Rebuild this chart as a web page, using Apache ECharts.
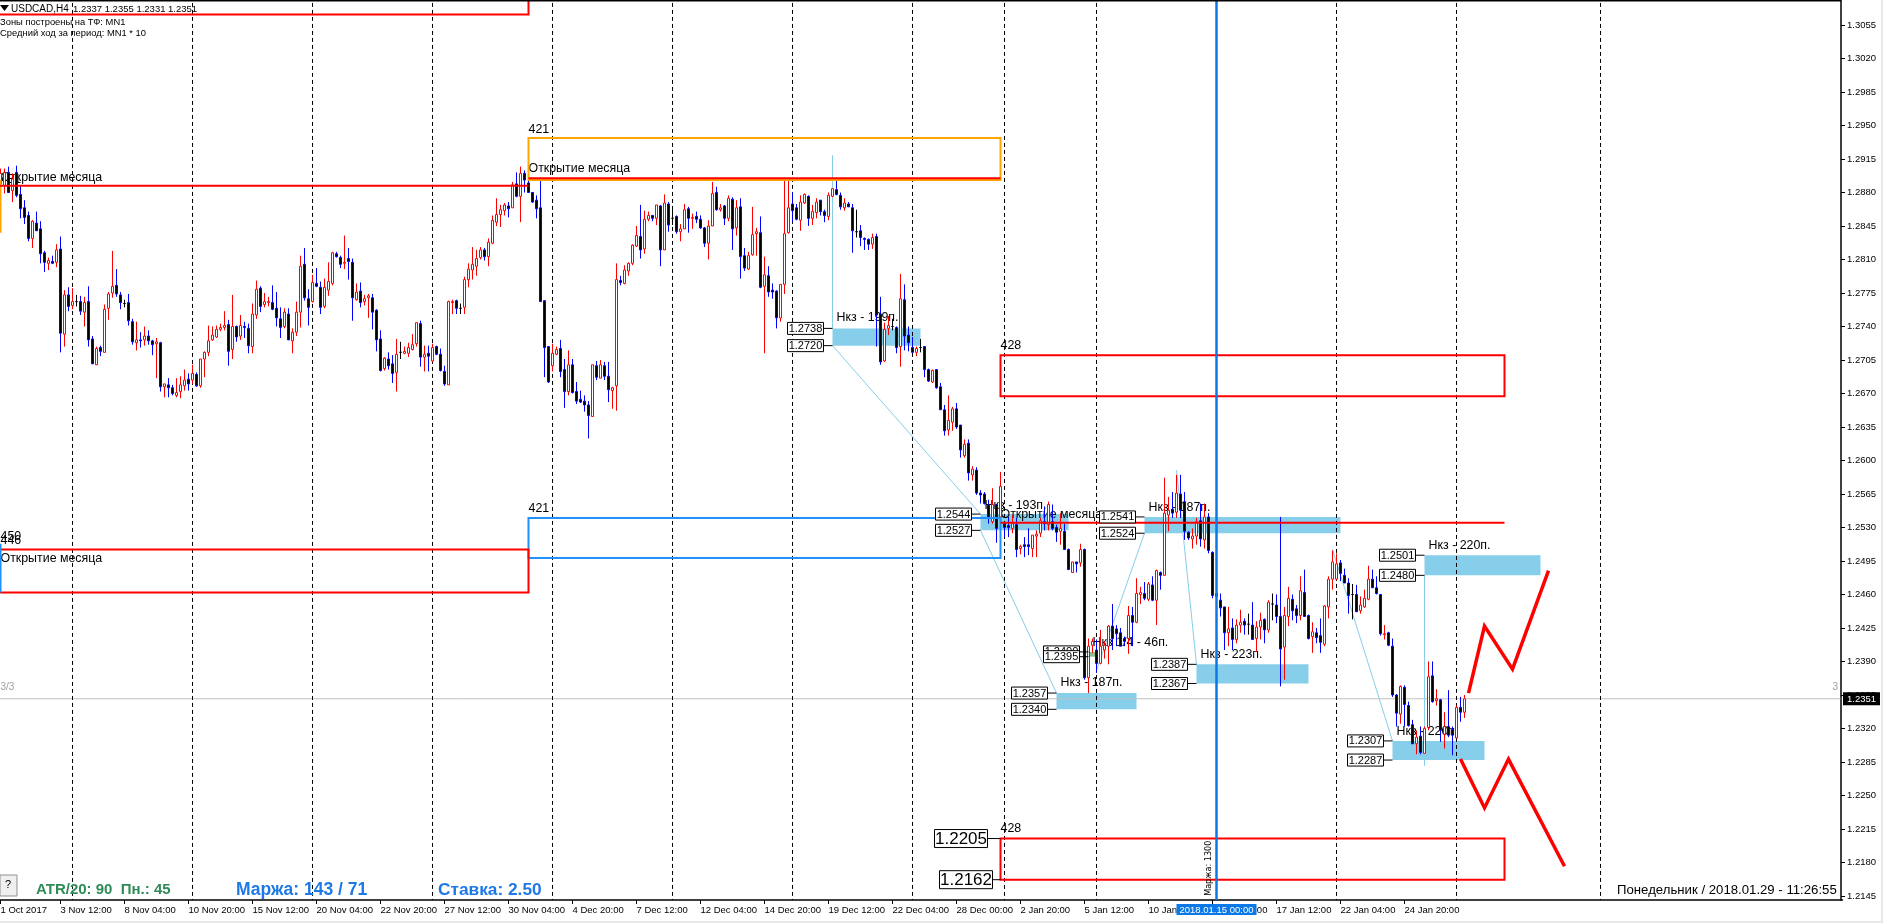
<!DOCTYPE html>
<html><head><meta charset="utf-8"><title>USDCAD H4</title>
<style>html,body{margin:0;padding:0;background:#fff;overflow:hidden}#c{width:1883px;height:923px}</style>
<script src="https://cdn.jsdelivr.net/npm/echarts@6/dist/echarts.min.js"></script></head>
<body><div id="c"></div>
<script>
// Candles: [open, close, low, high] in units of 0.0001
const candles = [
[12889,12900,12885,12905],[12887,12901,12879,12905],[12901,12880,12880,12907],[12882,12894,12870,12900],[12901,12877,12875,12908],[12878,12863,12853,12887],[12864,12854,12847,12872],[12856,12832,12829,12860],[12832,12850,12822,12851],[12848,12840,12840,12860],
[12842,12816,12806,12850],[12817,12807,12797,12819],[12806,12809,12799,12812],[12808,12806,12806,12814],[12807,12820,12802,12826],[12821,12733,12713,12834],[12732,12773,12719,12778],[12773,12761,12756,12781],[12762,12766,12758,12780],[12766,12766,12761,12773],
[12766,12756,12752,12772],[12755,12765,12740,12771],[12766,12726,12719,12782],[12727,12701,12701,12730],[12700,12717,12700,12719],[12718,12714,12709,12720],[12713,12758,12713,12763],[12759,12774,12747,12776],[12775,12782,12770,12819],[12783,12774,12771,12800],
[12773,12765,12758,12776],[12764,12764,12760,12768],[12765,12746,12741,12774],[12745,12724,12721,12748],[12723,12726,12715,12745],[12726,12725,12718,12734],[12726,12730,12720,12740],[12730,12725,12721,12736],[12725,12721,12710,12726],[12722,12724,12686,12728],
[12723,12677,12672,12724],[12677,12680,12666,12680],[12679,12676,12666,12686],[12676,12670,12668,12679],[12668,12671,12666,12686],[12672,12679,12665,12688],[12678,12684,12673,12695],[12685,12680,12673,12691],[12684,12691,12680,12700],[12690,12678,12677,12692],
[12678,12706,12676,12706],[12706,12713,12687,12714],[12713,12725,12709,12741],[12726,12731,12725,12740],[12729,12737,12728,12741],[12737,12739,12735,12743],[12739,12741,12736,12756],[12742,12714,12699,12747],[12716,12740,12706,12773],[12740,12729,12724,12741],
[12730,12741,12726,12752],[12740,12739,12728,12745],[12738,12720,12712,12743],[12719,12753,12712,12764],[12752,12779,12748,12788],[12780,12761,12755,12782],[12763,12766,12760,12775],[12765,12766,12761,12771],[12765,12758,12757,12783],[12759,12749,12740,12776],
[12748,12739,12728,12760],[12740,12755,12738,12759],[12753,12726,12726,12759],[12725,12734,12712,12738],[12734,12755,12730,12766],[12755,12803,12739,12814],[12805,12770,12767,12822],[12769,12760,12741,12779],[12766,12786,12765,12794],[12785,12782,12781,12801],
[12781,12760,12753,12787],[12761,12781,12759,12790],[12778,12787,12772,12807],[12785,12817,12783,12818],[12816,12813,12812,12818],[12812,12805,12801,12814],[12806,12807,12800,12835],[12811,12808,12789,12822],[12807,12770,12746,12811],[12768,12776,12767,12785],
[12777,12765,12760,12786],[12766,12769,12762,12773],[12770,12772,12749,12774],[12770,12755,12737,12774],[12757,12726,12714,12758],[12727,12694,12693,12736],[12696,12707,12694,12708],[12706,12699,12695,12713],[12701,12691,12681,12710],[12692,12711,12672,12727],
[12713,12713,12706,12724],[12712,12714,12711,12719],[12712,12718,12708,12723],[12716,12721,12715,12732],[12722,12744,12719,12744],[12743,12708,12698,12746],[12708,12711,12693,12720],[12712,12709,12693,12720],[12704,12718,12703,12722],[12719,12711,12710,12720],
[12711,12694,12693,12717],[12693,12680,12678,12699],[12679,12766,12679,12767],[12765,12766,12753,12768],[12767,12759,12753,12768],[12759,12759,12753,12764],[12760,12789,12753,12792],[12789,12800,12781,12806],[12799,12805,12789,12823],[12803,12811,12793,12820],
[12812,12820,12810,12823],[12820,12813,12809,12822],[12813,12828,12803,12832],[12827,12851,12826,12856],[12849,12857,12845,12874],[12857,12862,12844,12867],[12861,12867,12856,12869],[12866,12863,12854,12870],[12864,12888,12864,12891],[12889,12876,12875,12901],
[12876,12900,12849,12907],[12900,12893,12880,12903],[12890,12880,12880,12893],[12880,12870,12869,12880],[12872,12863,12853,12877],[12864,12766,12766,12892],[12767,12718,12687,12767],[12719,12682,12681,12719],[12699,12712,12693,12722],[12711,12716,12710,12719],
[12717,12693,12687,12726],[12695,12672,12655,12706],[12672,12700,12668,12715],[12700,12671,12670,12706],[12672,12662,12659,12682],[12664,12661,12660,12673],[12662,12658,12651,12668],[12658,12647,12623,12662],[12646,12700,12646,12700],[12699,12687,12684,12704],
[12686,12700,12686,12705],[12699,12688,12684,12703],[12688,12674,12661,12703],[12673,12676,12654,12677],[12678,12789,12652,12806],[12788,12786,12783,12793],[12785,12799,12784,12804],[12798,12806,12793,12807],[12806,12825,12804,12826],[12824,12835,12823,12845],
[12834,12820,12811,12867],[12821,12852,12816,12861],[12852,12856,12850,12860],[12856,12853,12850,12856],[12853,12867,12846,12867],[12866,12820,12803,12867],[12820,12869,12820,12878],[12868,12846,12839,12870],[12853,12853,12846,12862],[12855,12839,12837,12856],
[12839,12842,12829,12847],[12842,12862,12842,12868],[12863,12853,12838,12865],[12853,12854,12842,12858],[12855,12852,12848,12860],[12852,12843,12842,12856],[12843,12827,12823,12844],[12827,12845,12810,12851],[12845,12879,12845,12891],[12880,12862,12861,12886],
[12862,12864,12860,12868],[12866,12853,12846,12867],[12853,12874,12850,12877],[12873,12842,12820,12875],[12843,12864,12835,12872],[12865,12813,12790,12874],[12814,12801,12798,12822],[12800,12814,12799,12818],[12815,12836,12814,12865],[12837,12839,12814,12843],
[12838,12781,12780,12855],[12782,12794,12712,12813],[12793,12776,12771,12803],[12778,12776,12769,12785],[12777,12749,12738,12778],[12749,12784,12745,12784],[12784,12837,12774,12892],[12838,12864,12837,12892],[12868,12861,12849,12880],[12864,12852,12851,12868],
[12851,12870,12840,12877],[12869,12878,12868,12879],[12876,12853,12845,12877],[12853,12860,12846,12867],[12859,12870,12853,12874],[12872,12860,12856,12872],[12860,12856,12849,12862],[12855,12877,12851,12880],[12876,12884,12875,12884],[12883,12878,12877,12892],
[12877,12865,12862,12880],[12864,12869,12861,12874],[12868,12865,12865,12870],[12864,12840,12817,12868],[12839,12839,12833,12862],[12840,12833,12824,12846],[12832,12831,12820,12833],[12831,12826,12820,12832],[12826,12833,12821,12837],[12834,12752,12719,12837],
[12753,12703,12700,12771],[12704,12737,12703,12744],[12738,12741,12731,12751],[12740,12740,12736,12748],[12739,12718,12712,12740],[12719,12769,12698,12795],[12768,12730,12715,12784],[12731,12723,12714,12740],[12718,12713,12713,12729],[12713,12717,12709,12719],
[12718,12718,12713,12727],[12719,12695,12687,12719],[12695,12683,12682,12696],[12682,12694,12681,12695],[12695,12676,12675,12695],[12677,12653,12653,12681],[12653,12631,12626,12658],[12632,12642,12626,12668],[12640,12654,12631,12656],[12654,12635,12633,12660],
[12637,12611,12603,12637],[12605,12617,12603,12622],[12618,12587,12579,12622],[12585,12591,12579,12594],[12590,12566,12564,12593],[12566,12564,12555,12569],[12565,12555,12554,12567],[12554,12541,12534,12559],[12536,12554,12534,12571],[12554,12529,12514,12554],
[12541,12573,12514,12588],[12534,12530,12520,12535],[12532,12530,12520,12541],[12529,12534,12524,12543],[12533,12507,12499,12540],[12508,12510,12502,12512],[12512,12510,12499,12520],[12512,12510,12501,12529],[12508,12522,12499,12522],[12521,12523,12499,12527],
[12524,12537,12520,12540],[12536,12534,12527,12552],[12533,12554,12527,12557],[12536,12529,12527,12554],[12530,12525,12515,12533],[12526,12529,12512,12545],[12526,12507,12507,12534],[12507,12486,12486,12508],[12483,12494,12483,12494],[12494,12492,12483,12494],
[12493,12507,12489,12513],[12507,12373,12371,12508],[12373,12406,12357,12414],[12407,12411,12399,12414],[12402,12388,12378,12413],[12388,12406,12387,12423],[12402,12407,12393,12411],[12406,12427,12387,12428],[12427,12414,12402,12450],[12424,12419,12406,12428],
[12420,12406,12406,12425],[12414,12411,12406,12416],[12414,12438,12398,12448],[12438,12431,12406,12447],[12431,12461,12430,12477],[12460,12462,12450,12468],[12461,12456,12454,12473],[12455,12471,12453,12473],[12470,12454,12453,12479],[12454,12485,12428,12486],
[12483,12480,12465,12484],[12480,12545,12480,12582],[12543,12548,12526,12562],[12549,12545,12540,12567],[12546,12566,12540,12585],[12565,12548,12540,12585],[12557,12526,12517,12567],[12525,12519,12517,12526],[12518,12521,12508,12529],[12521,12536,12512,12540],
[12537,12518,12510,12555],[12517,12541,12508,12555],[12541,12506,12503,12545],[12504,12459,12456,12505],[12461,12458,12454,12463],[12454,12446,12437,12461],[12447,12420,12402,12447],[12420,12424,12406,12447],[12425,12413,12402,12435],[12413,12428,12409,12434],
[12428,12431,12420,12444],[12432,12428,12418,12435],[12429,12429,12418,12440],[12428,12413,12413,12452],[12414,12426,12400,12432],[12426,12433,12413,12441],[12434,12423,12409,12435],[12423,12452,12420,12454],[12450,12450,12433,12461],[12449,12437,12430,12460],
[12437,12403,12364,12541],[12405,12438,12371,12447],[12437,12456,12427,12468],[12455,12443,12433,12460],[12445,12438,12430,12449],[12438,12464,12433,12479],[12462,12437,12437,12486],[12438,12414,12413,12439],[12416,12421,12399,12431],[12420,12415,12409,12425],
[12417,12410,12399,12435],[12408,12448,12406,12449],[12447,12476,12435,12479],[12476,12494,12465,12506],[12476,12492,12475,12503],[12493,12482,12474,12496],[12480,12472,12472,12487],[12472,12459,12440,12477],[12460,12460,12434,12471],[12460,12442,12442,12470],
[12443,12449,12440,12458],[12447,12456,12446,12465],[12455,12476,12454,12490],[12476,12467,12467,12486],[12467,12461,12460,12479],[12460,12419,12417,12460],[12418,12419,12413,12428],[12420,12407,12406,12421],[12406,12355,12353,12414],[12355,12336,12322,12356],
[12335,12364,12325,12365],[12363,12345,12322,12365],[12344,12323,12322,12348],[12324,12304,12304,12329],[12304,12311,12293,12318],[12312,12295,12293,12322],[12294,12320,12294,12322],[12321,12374,12318,12390],[12375,12348,12347,12390],[12349,12351,12344,12361],
[12350,12318,12306,12351],[12314,12322,12299,12337],[12322,12313,12311,12360],[12319,12313,12292,12322],[12310,12342,12310,12344],[12342,12337,12327,12353],[12337,12351,12331,12355]
];
const BAR_SLOTS = 461;
const categories = Array.from({length: BAR_SLOTS}, (_, i) => String(i));
const priceTicks = [12145,12180,12215,12250,12285,12320,12355,12390,12425,12460,12495,12530,12565,12600,12635,12670,12705,12740,12775,12810,12845,12880,12915,12950,12985,13020,13055];
const timeLabels = ['3 Nov 12:00','8 Nov 04:00','10 Nov 20:00','15 Nov 12:00','20 Nov 04:00','22 Nov 20:00','27 Nov 12:00','30 Nov 04:00','4 Dec 20:00','7 Dec 12:00','12 Dec 04:00','14 Dec 20:00','19 Dec 12:00','22 Dec 04:00','28 Dec 00:00','2 Jan 20:00','5 Jan 12:00','10 Jan 04:00','12 Jan 20:00','17 Jan 12:00','22 Jan 04:00','24 Jan 20:00'];
const firstLabel = '1 Oct 2017';
const weekSeparators = [18,48,78,108,138,168,198,228,251,274,334,364,400];
const selectedBar = 304;
const lastPrice = 12351;
// Zones [from bar, to bar, upper price, lower price]
const blueZones = [[208,230,12738,12720],[245,267,12544,12527],[264,284,12357,12340],[286,335,12541,12524],[299,327,12387,12367],[348,371,12307,12287],[356,385,12501,12480]];
const smallZones = [[272,274,12400,12395]];
const redBoxes = [[-5,132,13100,13066],[-5,132,12507,12462],[250,376,12710,12667],[250,376,12205,12162]];
const orangeBoxes = [[132,250,12937,12893]];
const blueBoxes = [[132,250,12540,12498]];
const redLevels = [[-5,132,12887],[132,250,12895],[250,376,12535]];
const stubs = [[0,12893,0,12838,'#ffa500'],[0,12513,0,12462,'#1e90ff']];
const traceLines = [[208,12919,208,12738],[208,12720,245,12544],[245,12527,264,12357],[274,12381,286,12524],[294,12590,299,12387],[333,12507,348,12307],[356,12480,356,12281]];
const greenTrace = [[272,12400,272,12357]];
const forecastUp = [[367,12357],[371,12427],[378,12382],[387,12485]];
const forecastDown = [[365,12288],[371,12237],[377,12288],[391,12176]];
// Price tags [zone start bar, price]
const priceTags = [[208,12738],[208,12720],[245,12544],[245,12527],[264,12357],[264,12340],[272,12400],[272,12395],[286,12541],[286,12524],[299,12387],[299,12367],[348,12307],[348,12287],[356,12501],[356,12480]];
const bigTags = [[250,12205,13],[250,12162,8]];
// Texts on the chart [bar, price, text]
const chartTexts = [
[132,12946,'421'],[132,12550,'421'],[132,12905,'Открытие месяца'],[0,12896,'Открытие месяца'],[0,12893,'431'],
[0,12521,'450'],[0,12516,'446'],[0,12498,'Открытие месяца'],[250,12720,'428'],[250,12215,'428'],[250,12544,'Открытие месяца'],
[209,12749,'Нкз - 199п.'],[246,12553,'Нкз - 193п.'],[273,12410,'Нкз 1/4 - 46п.'],[265,12368,'Нкз - 187п.'],[287,12551,'Нкз - 187п.'],[300,12397,'Нкз - 223п.'],[349,12317,'Нкз - 220п.'],[357,12511,'Нкз - 220п.']
];
const markerTexts = [[0,12363,'3/3'],[458,12363,'3']];
const marginNote = [302,12174,'Маржа: 1300'];

const FONT = '"Liberation Sans", Arial, sans-serif';
const P = v => v / 10000;
const firstTick = 15, tickStep = 16;
const PX_PER_PRICE = 9571;
function isLabelled(i){ if(i===0) return true; const k=(i-firstTick)/tickStep; return k>=0 && Number.isInteger(k) && k<timeLabels.length; }

function pt(api,i,p){ return api.coord([i,P(p)]); }
function rectEl(api,b,style){
  const a=pt(api,b[0],b[2]), c=pt(api,b[1],b[3]);
  return {type:'rect',shape:{x:a[0],y:a[1],width:c[0]-a[0],height:c[1]-a[1]},style};
}
function lineEl(api,x1,p1,x2,p2,style){
  const a=pt(api,x1,p1), c=pt(api,x2,p2);
  return {type:'line',shape:{x1:a[0],y1:a[1],x2:c[0],y2:c[1]},style};
}
function textEl(api,t,font,fill){
  const a=pt(api,t[0],t[1]);
  return {type:'text',x:a[0],y:a[1],style:{text:t[2],font,fill,textAlign:'left',textVerticalAlign:'middle'}};
}
function polyEl(api,points,style){
  return {type:'polyline',shape:{points:points.map(q=>pt(api,q[0],q[1]))},style};
}
function tagEl(api,t,gap,w,h,fs,lw){
  const a=pt(api,t[0],t[1]), x=a[0], y=a[1];
  return {type:'group',children:[
    {type:'line',shape:{x1:x-gap,y1:y,x2:x,y2:y},style:{stroke:'#000',lineWidth:1}},
    {type:'rect',shape:{x:x-gap-w,y:y-h/2,width:w,height:h},style:{fill:'#fff',stroke:'#000',lineWidth:lw}},
    {type:'text',x:x-gap-w/2,y:y+0.5,style:{text:(t[1]/10000).toFixed(4),font:fs+'px '+FONT,fill:'#000',textAlign:'center',textVerticalAlign:'middle'}}
  ]};
}
function layer(z,clip,render){
  return {type:'custom',z,clip,silent:true,coordinateSystem:'cartesian2d',xAxisIndex:0,yAxisIndex:0,
    data:[[0,P(lastPrice)]],encode:{x:0,y:1},renderItem:(params,api)=>({type:'group',children:render(api)})};
}

const backLayer = layer(1,true,api=>[
  ...blueZones.map(z=>rectEl(api,z,{fill:'#87ceeb'})),
  ...smallZones.map(z=>rectEl(api,z,{fill:'#8fbc8f'})),
  lineEl(api,-5,lastPrice,460,lastPrice,{stroke:'#c0c0c0',lineWidth:1}),
  ...weekSeparators.map(i=>lineEl(api,i,13100,i,12000,{stroke:'#000',lineWidth:1,lineDash:[4,3]})),
  ...traceLines.map(l=>lineEl(api,l[0],l[1],l[2],l[3],{stroke:'#87ceeb',lineWidth:1})),
  ...greenTrace.map(l=>lineEl(api,l[0],l[1],l[2],l[3],{stroke:'#8fbc8f',lineWidth:1})),
  ...chartTexts.map(t=>textEl(api,t,'12.4px '+FONT,'#000')),
  ...markerTexts.map(t=>textEl(api,t,'10px '+FONT,'#a0a0a0'))
]);
const frontLayer = layer(5,true,api=>[
  ...orangeBoxes.map(b=>rectEl(api,b,{fill:null,stroke:'#ffa500',lineWidth:2})),
  ...blueBoxes.map(b=>rectEl(api,b,{fill:null,stroke:'#1e90ff',lineWidth:2})),
  ...redBoxes.map(b=>rectEl(api,b,{fill:null,stroke:'#ff0000',lineWidth:2})),
  ...stubs.map(s=>lineEl(api,s[0],s[1],s[2],s[3],{stroke:s[4],lineWidth:2})),
  ...redLevels.map(l=>lineEl(api,l[0],l[2],l[1],l[2],{stroke:'#ff0000',lineWidth:2})),
  lineEl(api,selectedBar,13100,selectedBar,12000,{stroke:'#0a78e6',lineWidth:2.5}),
  polyEl(api,forecastUp,{fill:null,stroke:'#ff0000',lineWidth:3.5}),
  polyEl(api,forecastDown,{fill:null,stroke:'#ff0000',lineWidth:3.5}),
  ...priceTags.map(t=>tagEl(api,t,9,36,12,11,1)),
  ...bigTags.map(t=>tagEl(api,t,t[2],53,18,17,1)),
  (()=>{const a=pt(api,marginNote[0],marginNote[1]);
    return {type:'text',x:a[0],y:a[1],rotation:Math.PI/2,style:{text:marginNote[2],font:'8.1px "DejaVu Sans", sans-serif',fill:'#000',textAlign:'center',textVerticalAlign:'middle'}};})()
]);
const axisOverlay = layer(6,false,api=>{
  const s=pt(api,selectedBar,lastPrice), l=pt(api,460,lastPrice);
  return [
    {type:'rect',shape:{x:s[0]-40,y:904,width:80,height:11},style:{fill:'#0a78e6'}},
    {type:'text',x:s[0],y:910,style:{text:'2018.01.15 00:00',font:'9.5px '+FONT,fill:'#fff',textAlign:'center',textVerticalAlign:'middle'}},
    {type:'rect',shape:{x:l[0]+2.5,y:l[1]-6.5,width:37,height:13},style:{fill:'#000'}},
    {type:'text',x:l[0]+21,y:l[1]+0.5,style:{text:(lastPrice/10000).toFixed(4),font:'9.5px '+FONT,fill:'#fff',textAlign:'center',textVerticalAlign:'middle'}}
  ];
});

const txt=(x,y,text,font,fill,extra)=>({type:'text',x,y,z:20,style:Object.assign({text,font,fill,textAlign:'left',textVerticalAlign:'middle'},extra||{})});
const chart = echarts.init(document.getElementById('c'),null,{renderer:'canvas'});
chart.setOption({
  animation:false,backgroundColor:'#fff',
  grid:{left:-1.5,top:0,width:1844,height:900,containLabel:false,outerBoundsMode:'none'},
  xAxis:{type:'category',data:categories,boundaryGap:true,
    axisLine:{show:true,onZero:false,lineStyle:{color:'#000',width:1.5}},
    axisTick:{show:true,alignWithLabel:true,length:4,interval:(i)=>isLabelled(i),lineStyle:{color:'#000'}},
    axisLabel:{show:true,interval:(i)=>isLabelled(i),align:'left',margin:5,fontFamily:FONT,fontSize:9.5,color:'#000',
      formatter:(v,i)=>{const n=+v; if(n===0) return firstLabel; return timeLabels[(n-firstTick)/tickStep]||'';}},
    splitLine:{show:false}},
  yAxis:{type:'value',position:'right',offset:-1.5,min:P(13055)-875/PX_PER_PRICE,max:P(13055)+25/PX_PER_PRICE,scale:false,
    axisLine:{show:true,onZero:false,lineStyle:{color:'#000',width:1.5}},
    axisTick:{show:true,length:4,lineStyle:{color:'#000'},customValues:priceTicks.map(P)},
    axisLabel:{show:true,margin:6,fontFamily:FONT,fontSize:9.5,color:'#000',customValues:priceTicks.map(P),formatter:v=>v.toFixed(4)},
    splitLine:{show:false}},
  series:[backLayer,
    {type:'candlestick',z:3,barWidth:3,silent:true,data:candles.map(r=>r.map(P)),
     itemStyle:{color:'#ffffff',color0:'#000000',borderColor:'#ff0000',borderColor0:'#0000ff',borderColorDoji:'#000000',borderWidth:1}},
    frontLayer,axisOverlay],
  graphic:[
    {type:'rect',z:20,shape:{x:0,y:0,width:1841,height:1.5},style:{fill:'#000'}},
    {type:'rect',z:20,shape:{x:0,y:921,width:1883,height:2},style:{fill:'#e8e8e8'}},
    {type:'rect',z:20,shape:{x:1881,y:0,width:2,height:923},style:{fill:'#e8e8e8'}},
    {type:'polygon',z:20,shape:{points:[[0,5],[9,5],[4.5,11]]},style:{fill:'#000'}},
    txt(11,9,'USDCAD,H4','10px '+FONT,'#000'),
    txt(73,9,'1.2337 1.2355 1.2331 1.2351','9.5px '+FONT,'#000'),
    txt(0,22,'Зоны построены на ТФ: MN1','9.4px '+FONT,'#000'),
    txt(0,33,'Средний ход за период: MN1 * 10','9.4px '+FONT,'#000'),
    {type:'rect',z:20,shape:{x:0,y:875,width:17,height:21},style:{fill:'#f0f0f0',stroke:'#909090',lineWidth:1}},
    txt(5,885,'?','11px '+FONT,'#000'),
    txt(36,890,'ATR/20: 90  Пн.: 45','bold 15px '+FONT,'#2e8b57'),
    txt(236,890,'Маржа: 143 / 71','bold 17.5px '+FONT,'#1e78e6'),
    txt(438,890,'Ставка: 2.50','bold 17.3px '+FONT,'#1e78e6'),
    txt(1617,890,'Понедельник / 2018.01.29 - 11:26:55','13.2px '+FONT,'#000')
  ]
});
</script></body></html>
